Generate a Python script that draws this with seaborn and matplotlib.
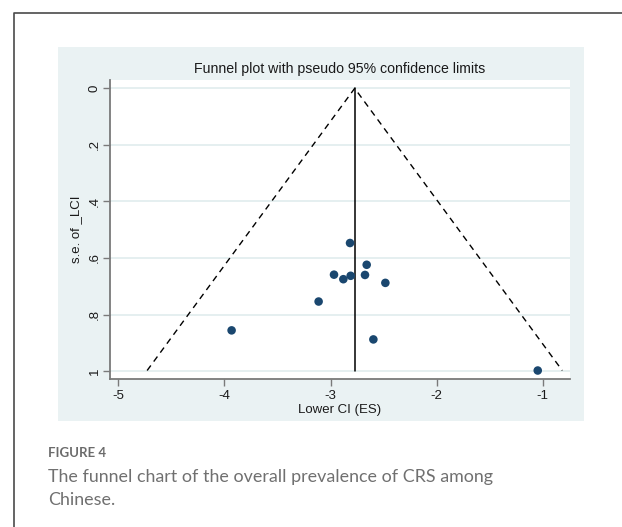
import numpy as np
import pandas as pd
import matplotlib
matplotlib.use("Agg")
import matplotlib.pyplot as plt
from matplotlib.lines import Line2D
from matplotlib.patches import Rectangle
import seaborn as sns

# study estimates
es = [-2.816, -2.659, -2.967, -2.879, -2.810, -2.675, -2.483, -3.112, -3.932, -2.596, -1.047]
se = [0.547, 0.624, 0.659, 0.675, 0.663, 0.660, 0.688, 0.754, 0.856, 0.888, 0.998]
pooled_es = -2.772
z95 = 1.96

x_ticks = [-5, -4, -3, -2, -1]
x_ticklabels = ["-5", "-4", "-3", "-2", "-1"]
y_ticks = [0, 0.2, 0.4, 0.6, 0.8, 1.0]
y_ticklabels = ["0", ".2", ".4", ".6", ".8", "1"]

df = pd.DataFrame({"es": es, "se": se})

sns.set_theme(style="white")
plt.rcParams["font.family"] = ["Liberation Sans", "DejaVu Sans"]

W, H = 622, 527
fig = plt.figure(figsize=(W / 100, H / 100), dpi=100)
fig.patch.set_facecolor("white")

def fx(px):
    return px / W

def fy(py):
    return 1 - py / H

# outer frame of the figure panel
fig.add_artist(Line2D([fx(14), fx(14), fx(640)], [fy(540), fy(12.5), fy(12.5)],
                      color="#4a4a4a", lw=1.2, transform=fig.transFigure))

# Stata graph region
fig.add_artist(Rectangle((fx(58), fy(421)), fx(584) - fx(58), fy(47) - fy(421),
                         facecolor="#eaf2f3", edgecolor="none", transform=fig.transFigure,
                         zorder=0))

ax = fig.add_axes([fx(110), fy(379), fx(570) - fx(110), fy(80) - fy(379)])
ax.set_facecolor("white")

# grid lines
for yv in y_ticks:
    ax.axhline(yv, color="#e3eeef", lw=1.3, zorder=0)

# pseudo 95% confidence limits
se_max = max(se)
ax.plot([pooled_es - z95 * se_max, pooled_es, pooled_es + z95 * se_max],
        [se_max, 0, se_max], color="black", lw=1.0, ls=(0, (4.5, 3.5)), zorder=2)
ax.plot([pooled_es, pooled_es], [0, se_max], color="black", lw=1.1, zorder=2)

sns.scatterplot(data=df, x="es", y="se", ax=ax, color="#1a476f", s=38,
                edgecolor="none", zorder=3)

ax.set_xlim(-5.078, -0.743)
ax.set_ylim(1.028, -0.0295)
ax.set_xticks(x_ticks)
ax.set_xticklabels(x_ticklabels)
ax.set_yticks(y_ticks)
ax.set_yticklabels(y_ticklabels, rotation=90, va="center")
ax.tick_params(axis="both", direction="out", length=5, width=1, color="#7a7a7a",
               labelsize=9.5, labelcolor="#1a1a1a", pad=3, bottom=True, left=True)
ax.tick_params(axis="y", pad=1.5)

for side in ["top", "right"]:
    ax.spines[side].set_visible(False)
for side in ["left", "bottom"]:
    ax.spines[side].set_color("#7a7a7a")
    ax.spines[side].set_linewidth(1.3)

ax.set_xlabel("Lower CI (ES)", fontsize=9.5, color="#1a1a1a", labelpad=1)
ax.set_ylabel("s.e. of _LCI", fontsize=9.5, color="#1a1a1a", labelpad=5)
ax.set_title("Funnel plot with pseudo 95% confidence limits", fontsize=10.2,
             color="#1a1a1a", pad=5)

# caption
fig.text(fx(48), fy(453), "FIGURE 4", fontsize=9.5, color="#6b6b6b", fontweight="bold",
         family=["Lato", "DejaVu Sans"], va="center", ha="left")
fig.text(fx(48), fy(477), "The funnel chart of the overall prevalence of CRS among",
         fontsize=12.9, color="#707070", family=["Lato", "DejaVu Sans"], va="center", ha="left")
fig.text(fx(48), fy(500), "Chinese.", fontsize=12.9, color="#707070",
         family=["Lato", "DejaVu Sans"], va="center", ha="left")

fig.savefig("out.png", dpi=100, facecolor="white")
